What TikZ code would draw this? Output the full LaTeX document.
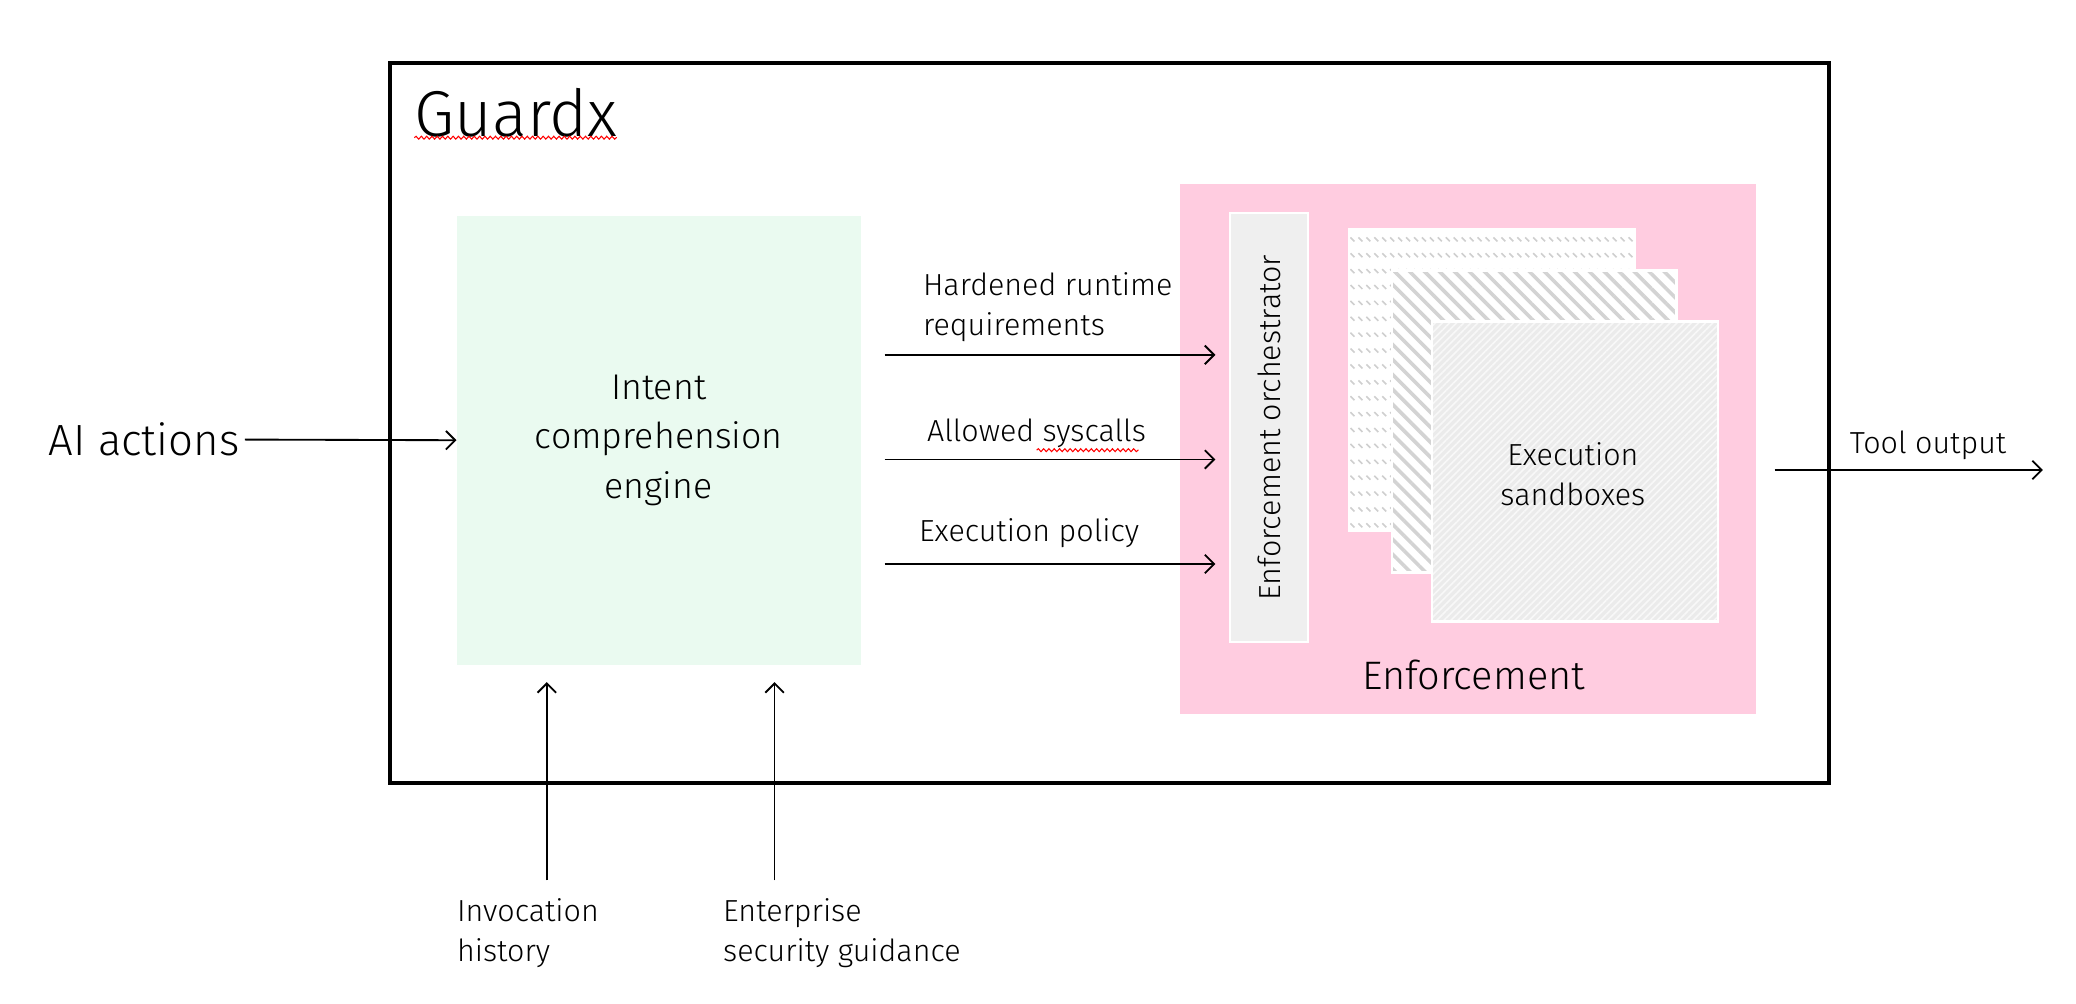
\documentclass[tikz,border=0pt]{standalone}
\usepackage{fontspec}
\setmainfont{Fira Sans Light}
\usetikzlibrary{arrows.meta,patterns,patterns.meta,decorations.pathmorphing}
\definecolor{mint}{HTML}{EAFAF0}
\definecolor{pinkc}{HTML}{FFCCE0}
\definecolor{orchgray}{HTML}{EFEFEF}
\definecolor{stripegray}{HTML}{D3D3D3}
\definecolor{dashgray}{HTML}{CFCFCF}
\definecolor{frontgray}{HTML}{EBEBEB}
\definecolor{frontline}{HTML}{F8F8F8}
\pgfdeclarepatternformonly{sdash}{\pgfqpoint{-1pt}{-1pt}}{\pgfqpoint{7pt}{13pt}}{\pgfqpoint{6pt}{12pt}}{%
  \pgfsetlinewidth{1.2pt}%
  \pgfpathmoveto{\pgfqpoint{0pt}{3pt}}%
  \pgfpathlineto{\pgfqpoint{3pt}{0pt}}%
  \pgfusepath{stroke}}
\begin{document}
\begin{tikzpicture}[x=1pt,y=-1pt,
  lbl/.style={font=\fontsize{23}{30}\selectfont, inner sep=0pt, align=left},
  big/.style={font=\fontsize{27}{37.5}\selectfont, inner sep=0pt, align=center},
  arr/.style={-{Straight Barb[length=7pt,width=14pt]}, line width=1.4pt},
  sbox/.style={draw=white, line width=2pt, anchor=north west, inner sep=0pt},
  squig/.style={red, line width=0.8pt, decorate, decoration={snake, amplitude=1.1pt, segment length=4pt}}
  ]
\useasboundingbox (0,0) rectangle (1568,758.3);
\fill[white] (0,0) rectangle (1568,758.3);
% outer frame
\node[draw, line width=3pt, minimum width=1087pt, minimum height=544pt, anchor=north west, inner sep=0pt] (frame) at (293,46) {};
\node[font=\fontsize{49}{49}\selectfont, anchor=west, inner sep=0pt] (title) at (313,85) {Guardx};
\draw[squig] (313,104) -- (466,104);
% intent engine
\node[fill=mint, minimum width=305pt, minimum height=339pt, big] (ice) at (497.5,332.5) {Intent\\comprehension\\engine};
% AI actions
\node[big, font=\fontsize{33}{40}\selectfont, anchor=east] (ai) at (181,332) {AI actions};
\draw[arr] (ai.east) ++(4,0) -- (ice.west);
% enforcement
\node[fill=pinkc, minimum width=435pt, minimum height=400pt, anchor=north west, inner sep=0pt] (enf) at (891,139) {};
\node[big, font=\fontsize{30}{36}\selectfont] (enflbl) at (1113,510) {Enforcement};
\node[fill=orchgray, draw=white, line width=2pt, minimum width=59pt, minimum height=324pt, anchor=north west, inner sep=0pt] (orch) at (928,160) {};
\node[lbl, rotate=90] (orchtxt) at (orch.center) {Enforcement orchestrator};
% sandboxes
\node[sbox, minimum width=216pt, minimum height=228pt, preaction={fill=white}, pattern=sdash, pattern color=dashgray] (sb1) at (1018,172) {};
\node[sbox, minimum width=215pt, minimum height=228pt, preaction={fill=white}, pattern={Lines[angle=-45,distance=8pt,line width=2.7pt]}, pattern color=stripegray] (sb2) at (1050,203) {};
\node[sbox, minimum width=216pt, minimum height=227pt, preaction={fill=frontgray}, pattern={Lines[angle=45,distance=3.8pt,line width=1.2pt]}, pattern color=frontline] (sb3) at (1081,242) {};
\node[lbl, align=center] (sbtxt) at (1188,358) {Execution\\sandboxes};
% arrows to orchestrator
\draw[arr, shorten <=18pt, shorten >=10pt] (ice.east |- 0,268) -- (orch.west |- 0,268);
\draw[arr, shorten <=18pt, shorten >=10pt] (ice.east |- 0,347) -- (orch.west |- 0,347);
\draw[arr, shorten <=18pt, shorten >=10pt] (ice.east |- 0,426) -- (orch.west |- 0,426);
\node[lbl, anchor=west] (l1) at (697,232) {Hardened runtime\\requirements};
\node[lbl, anchor=west] (l2) at (700,327) {Allowed syscalls};
\draw[squig] (783,340) -- (860,340);
\node[lbl, anchor=west] (l3) at (694,403) {Execution policy};
% tool output
\coordinate (out) at (1543,355);
\draw[arr, shorten <=14pt] (enf.east |- out) -- (out);
\node[lbl, anchor=west] (tool) at (1397,336) {Tool output};
% bottom inputs
\coordinate (ih) at (413,665);
\coordinate (es) at (585,665);
\draw[arr, shorten >=13pt] (ih) -- (ih |- ice.south);
\draw[arr, shorten >=13pt] (es) -- (es |- ice.south);
\node[lbl, anchor=west] (ihl) at (345,705) {Invocation\\history};
\node[lbl, anchor=west] (esl) at (546,705) {Enterprise\\security guidance};
\end{tikzpicture}
\end{document}
